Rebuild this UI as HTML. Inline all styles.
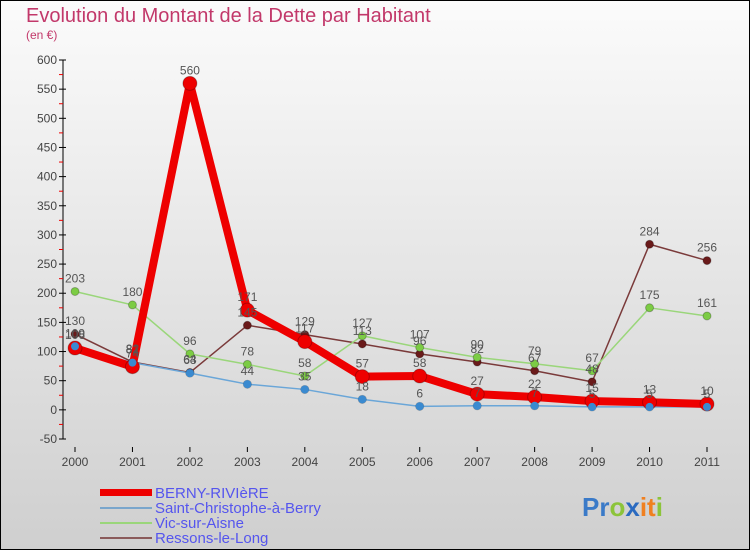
<!DOCTYPE html>
<html><head><meta charset="utf-8"><style>
html,body{margin:0;padding:0;}
body{width:750px;height:550px;overflow:hidden;font-family:"Liberation Sans",sans-serif;}
svg{display:block;}
</style></head><body>
<svg id="chart" width="750" height="550" xmlns="http://www.w3.org/2000/svg">
<defs><linearGradient id="bg" x1="0" y1="0" x2="0" y2="1"><stop offset="0" stop-color="#fbfbfb"/><stop offset="1" stop-color="#cfcfcf"/></linearGradient></defs>
<rect x="0.5" y="0.5" width="749" height="549" fill="url(#bg)" stroke="#000"/>
<text x="26" y="22" font-size="20" fill="#c2386a">Evolution du Montant de la Dette par Habitant</text>
<text x="26" y="39" font-size="12" fill="#c2386a">(en €)</text>
<g id="axes"></g><g id="series"></g><g id="labels"></g>
<g font-size="15" fill="#5555ee">
<rect x="100" y="489" width="52" height="7" fill="#ee0000"/>
<text x="155" y="498">BERNY-RIVIèRE</text>
<rect x="100" y="507" width="52" height="2" fill="#7aa6cc"/>
<text x="155" y="513">Saint-Christophe-à-Berry</text>
<rect x="100" y="522" width="52" height="2" fill="#9ad67a"/>
<text x="155" y="528">Vic-sur-Aisne</text>
<rect x="100" y="537" width="52" height="2" fill="#8a5a5a"/>
<text x="155" y="543">Ressons-le-Long</text>
</g>
<text x="582" y="516" font-size="26" font-weight="bold"><tspan fill="#3a7ac8">Pr</tspan><tspan fill="#8cc43a">o</tspan><tspan fill="#2a6ac0">x</tspan><tspan fill="#f08020">it</tspan><tspan fill="#8cc43a">i</tspan></text>
</svg>
<script>
const years=["2000","2001","2002","2003","2004","2005","2006","2007","2008","2009","2010","2011"];
const yTicks=[-50,0,50,100,150,200,250,300,350,400,450,500,550,600];
const berny=[106,74,560,171,117,57,58,27,22,15,13,10];
const saintChristophe=[109,81,63,44,35,18,6,7,7,5,5,5];
const vic=[203,180,96,78,58,127,107,90,79,67,175,161];
const ressons=[130,82,64,145,129,113,96,82,67,48,284,256];
const NS="http://www.w3.org/2000/svg";
const x0=75,x1=707,yTop=60,yBot=439,vMax=600,vMin=-50;
function xs(i){return x0+i*(x1-x0)/(years.length-1);}
function ys(v){return yTop+(vMax-v)*(yBot-yTop)/(vMax-vMin);}
function mk(tag,attrs,parent){const e=document.createElementNS(NS,tag);for(const k in attrs)e.setAttribute(k,attrs[k]);parent.appendChild(e);return e;}
const axes=document.getElementById('axes'),ser=document.getElementById('series'),lab=document.getElementById('labels');
let ax=mk('line',{x1:63,y1:yTop,x2:63,y2:yBot,stroke:'#000'},axes);


yTicks.forEach(v=>{
 let t=mk('line',{x1:59,y1:ys(v),x2:66,y2:ys(v),stroke:'#000'},axes);
 
 
 if(v<600){let m=mk('line',{x1:59,y1:ys(v+25),x2:63,y2:ys(v+25),stroke:'#e00'},axes);
 
 }
 let tx=mk('text',{x:57,y:ys(v)+4,'text-anchor':'end','font-size':12,fill:'#444'},axes);tx.textContent=v;
 
 
});
years.forEach((y,i)=>{
 let t=mk('line',{x1:xs(i),y1:447,x2:xs(i),y2:452,stroke:'#000'},axes);
 
 
 let tx=mk('text',{x:xs(i),y:466,'text-anchor':'middle','font-size':12,fill:'#444'},axes);tx.textContent=y;
 
 
});
function draw(vals,name,color,dot,w,r){
 const pts=vals.map((v,i)=>xs(i)+','+ys(v)).join(' ');
 let pl=mk('polyline',{points:pts,fill:'none',stroke:color,'stroke-width':w,'stroke-linejoin':'round'},ser);
 
 
 vals.forEach((v,i)=>{
  let c=mk('circle',{cx:xs(i),cy:ys(v),r:r,fill:dot,stroke:'rgba(0,0,0,0.25)'},ser);
  
  
  let t=mk('text',{x:xs(i),y:ys(v)-9,'text-anchor':'middle','font-size':12,fill:'#555'},lab);t.textContent=v;
  
  
 });
}
draw(ressons,'ressons','#7a3a3a','#6a1a1a',1.5,4);
draw(vic,'vic','#9ad67a','#7ccc44',1.5,4);
draw(saintChristophe,'saint-christophe','#6aa6d8','#3a8ad0',1.5,4);
draw(berny,'berny','#ee0000','#ee0000',8,7);
// redraw small dots on top of thick line where present
saintChristophe.forEach((v,i)=>{let c=mk('circle',{cx:xs(i),cy:ys(v),r:4,fill:'#3a8ad0'},ser);
 
 });
</script>
</body></html>
